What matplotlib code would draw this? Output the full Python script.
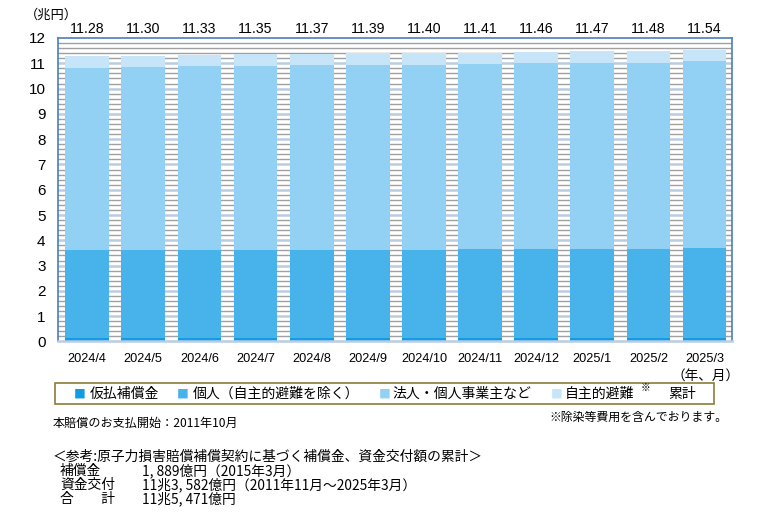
import matplotlib.pyplot as plt
import numpy as np
from matplotlib.patches import Rectangle

# data (兆円)
months = ['2024/4', '2024/5', '2024/6', '2024/7', '2024/8', '2024/9',
          '2024/10', '2024/11', '2024/12', '2025/1', '2025/2', '2025/3']
karibarai = [0.15, 0.15, 0.15, 0.15, 0.15, 0.15, 0.15, 0.15, 0.15, 0.15, 0.15, 0.15]
kojin = [3.45, 3.45, 3.46, 3.47, 3.47, 3.48, 3.48, 3.49, 3.50, 3.51, 3.52, 3.54]
houjin = [7.22, 7.24, 7.27, 7.28, 7.30, 7.31, 7.32, 7.32, 7.36, 7.36, 7.36, 7.41]
jishu = [0.46, 0.46, 0.45, 0.45, 0.45, 0.45, 0.45, 0.45, 0.45, 0.45, 0.45, 0.44]
totals = ['11.28', '11.30', '11.33', '11.35', '11.37', '11.39',
          '11.40', '11.41', '11.46', '11.47', '11.48', '11.54']

series = [karibarai, kojin, houjin, jishu]
names = ['仮払補償金', '個人（自主的避難を除く）', '法人・個人事業主など', '自主的避難']
colors = ['#139be3', '#48b2ea', '#93d1f4', '#c6e5f9']

JP = ['Noto Sans CJK JP', 'DejaVu Sans']
NUM = ['Liberation Sans', 'DejaVu Sans']

fig = plt.figure(figsize=(7.69, 5.17), dpi=100)
ax = fig.add_axes([0.0754, 0.3395, 0.8766, 0.587])

x = np.arange(len(months))

# striped background: grey every 0.2, light blue at integers
for v in np.arange(0.2, 12, 0.2):
    if abs(v - round(v)) < 1e-6:
        ax.axhline(v, color='#b8cce4', lw=1.8, zorder=0)
    else:
        ax.axhline(v, color='#a0a0a0', lw=1.0, zorder=0)

bottom = np.zeros(len(months))
for vals, c in zip(series, colors):
    ax.bar(x, vals, bottom=bottom, width=0.78, color=c, zorder=2, linewidth=0)
    bottom += np.array(vals)

for i, t in enumerate(totals):
    ax.text(x[i], 12.34, t, ha='center', va='center', fontsize=10.2,
            family=NUM, clip_on=False)

ax.set_xlim(-0.52, 11.49)
ax.set_ylim(0, 12)
ax.set_yticks(range(0, 13))
ax.set_xticks(x)
ax.set_xticklabels(months, fontsize=9.2, family=NUM)
for lab in ax.get_yticklabels():
    lab.set_fontsize(11)
    lab.set_family(NUM)
ax.tick_params(length=0, pad=8)
ax.tick_params(axis='y', pad=9)
for s in ['left', 'top', 'right']:
    ax.spines[s].set_color('#4a7ebb')
    ax.spines[s].set_linewidth(1.2)
ax.spines['bottom'].set_color('#b8cce4')
ax.spines['bottom'].set_linewidth(1.8)

fig.text(25 / 769, 1 - 15 / 517, '（兆円）', fontsize=9.5, family=JP, va='center', ha='left')
fig.text(740 / 769, 1 - 376 / 517, '（年、月）', fontsize=9.8, family=JP, va='center', ha='right')

# legend box
fig.patches.append(Rectangle((55 / 769, 1 - 404 / 517), (714 - 55) / 769, 21 / 517,
                             transform=fig.transFigure, fill=False,
                             edgecolor='#8b7d3a', lw=1.2))
ly = 1 - 394 / 517
sq_x = [80, 183, 385, 557]
tx_x = [90, 193, 392, 565]
for sx, tx, c, n in zip(sq_x, tx_x, colors, names):
    fig.text(sx / 769, ly, '■', color=c, fontsize=8.5, family=JP, va='center', ha='center')
    fig.text(tx / 769, ly, n, fontsize=10, family=JP, va='center', ha='left')
fig.text(645 / 769, 1 - 388 / 517, '※', fontsize=7, family=JP, va='center', ha='center')
fig.text(668 / 769, ly, '累計', fontsize=10, family=JP, va='center', ha='left')

# notes
fig.text(53 / 769, 1 - 423 / 517, '本賠償のお支払開始：2011年10月', fontsize=8.7,
         family=JP, va='center', ha='left')
fig.text(727 / 769, 1 - 417 / 517, '※除染等費用を含んでおります。', fontsize=8.6,
         family=JP, va='center', ha='right')
fig.text(53 / 769, 1 - 457 / 517, '＜参考:原子力損害賠償補償契約に基づく補償金、資金交付額の累計＞',
         fontsize=9.9, family=JP, va='center', ha='left')
rows = [('補償金', '1, 889億円（2015年3月）', 471),
        ('資金交付', '11兆3, 582億円（2011年11月～2025年3月）', 485),
        ('合　　計', '11兆5, 471億円', 499)]
for a, b, yy in rows:
    fig.text(60 / 769, 1 - yy / 517, a, fontsize=9.9, family=JP, va='center', ha='left')
    fig.text(142 / 769, 1 - yy / 517, b, fontsize=9.9, family=JP, va='center', ha='left')

fig.savefig('out.png', dpi=100)
